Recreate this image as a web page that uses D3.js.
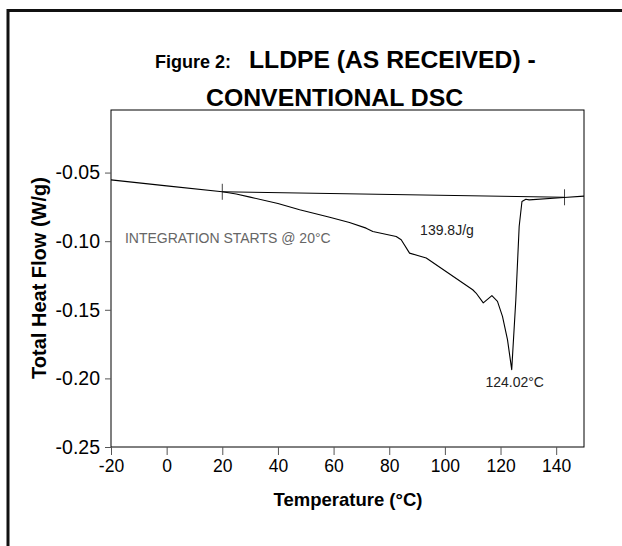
<!DOCTYPE html>
<html>
<head>
<meta charset="utf-8">
<script src="https://cdn.jsdelivr.net/npm/d3@7"></script>
<style>
  html, body { margin: 0; padding: 0; background: #fff; }
  svg { display: block; }
  text { font-family: Arial, "Liberation Sans", sans-serif; }
</style>
</head>
<body>
<svg id="chart" width="622" height="546"></svg>
<script>
// DSC trace: temperature (°C) and total heat flow (W/g)
const temps = [-20, 0, 20, 25, 30, 40, 47.8, 58.6, 65.7, 71.7, 74.1, 82.5, 84.3, 87.3, 93.3,
  110, 111.2, 113.8, 116.9, 118.9, 120.7, 122.5, 124.02, 125.5, 126.7, 127.7, 129.1, 130.3, 142.8, 150];
const heatFlow = [-0.0553, -0.0597, -0.064, -0.0656, -0.0679, -0.0725, -0.0771, -0.0825, -0.0864, -0.0905,
  -0.0929, -0.0966, -0.099, -0.1087, -0.1123, -0.1354, -0.1378, -0.145, -0.1397, -0.1439, -0.1548,
  -0.1718, -0.1936, -0.1427, -0.0893, -0.0711, -0.0694, -0.0699, -0.0682, -0.0672];

// Integration baseline limits
const baselineT = [20, 143];
const baselineHF = [-0.064, -0.068];

// Axis ticks
const xTicks = [-20, 0, 20, 40, 60, 80, 100, 120, 140];
const yTicks = [-0.25, -0.20, -0.15, -0.10, -0.05];

// Peak annotation
const peakT = 124.02;
const peakHF = -0.1936;
const enthalpy = 139.8;

const svg = d3.select("#chart");

// outer frame
svg.append("rect")
  .attr("x", 8).attr("y", 10.5)
  .attr("width", 640).attr("height", 560)
  .attr("fill", "none").attr("stroke", "#111").attr("stroke-width", 3);

const plotLeft = 111, plotRight = 584, plotTop = 110, plotBottom = 447;

const x = d3.scaleLinear().domain([-20, 150]).range([plotLeft, plotRight]);
const y = d3.scaleLinear().domain([-0.25, -0.0044]).range([plotBottom, plotTop]);

// plot box
svg.append("rect")
  .attr("x", plotLeft).attr("y", plotTop)
  .attr("width", plotRight - plotLeft).attr("height", plotBottom - plotTop)
  .attr("fill", "none").attr("stroke", "#000").attr("stroke-width", 1);

// x axis
const xAxis = svg.append("g")
  .attr("transform", `translate(0,${plotBottom})`)
  .call(d3.axisBottom(x).tickValues(xTicks).tickSize(8).tickPadding(5).tickFormat(d3.format("d")));
xAxis.select(".domain").remove();
xAxis.selectAll("line").attr("stroke", "#555");
xAxis.selectAll("text").attr("font-size", 17.5).attr("fill", "#000")
  .text(d => String(d))
  .style("font-family", "Arial, 'Liberation Sans', sans-serif");

// y axis
const yAxis = svg.append("g")
  .attr("transform", `translate(${plotLeft},0)`)
  .call(d3.axisLeft(y).tickValues(yTicks).tickSize(6).tickPadding(5).tickFormat(d3.format(".2f")));
yAxis.select(".domain").remove();
yAxis.selectAll("line").attr("stroke", "#555");
yAxis.selectAll("text").attr("font-size", 19.5).attr("fill", "#000")
  .text(d => d.toFixed(2))
  .style("font-family", "Arial, 'Liberation Sans', sans-serif");

// integration baseline
svg.append("line")
  .attr("x1", x(baselineT[0])).attr("y1", y(baselineHF[0]))
  .attr("x2", x(baselineT[1])).attr("y2", y(baselineHF[1]))
  .attr("stroke", "#000").attr("stroke-width", 1);

// baseline limit markers
baselineT.forEach((t, i) => {
  svg.append("line")
    .attr("x1", x(t)).attr("x2", x(t))
    .attr("y1", y(baselineHF[i]) - 8).attr("y2", y(baselineHF[i]) + 8)
    .attr("stroke", "#444").attr("stroke-width", 1);
});

// heat flow curve
const line = d3.line()
  .x((d, i) => x(temps[i]))
  .y((d, i) => y(heatFlow[i]));
svg.append("path")
  .datum(temps)
  .attr("d", line)
  .attr("fill", "none")
  .attr("stroke", "#000")
  .attr("stroke-width", 1.1)
  .attr("stroke-linejoin", "round");

// annotations
svg.append("text")
  .attr("x", x(-15)).attr("y", y(-0.1012))
  .attr("font-size", 14).attr("fill", "#666")
  .text("INTEGRATION STARTS @ 20°C");

svg.append("text")
  .attr("x", x(91.1)).attr("y", y(-0.0953))
  .attr("font-size", 14).attr("fill", "#222")
  .text(`${enthalpy}J/g`);

svg.append("text")
  .attr("x", x(peakT) + 3).attr("y", y(peakHF) + 17)
  .attr("text-anchor", "middle")
  .attr("font-size", 14).attr("fill", "#222")
  .text(`${peakT.toFixed(2)}°C`);

// titles
const title = svg.append("text")
  .attr("x", 155).attr("y", 68)
  .attr("font-weight", "bold").attr("fill", "#000");
title.append("tspan").attr("font-size", 18).text("Figure 2:");
title.append("tspan").attr("font-size", 24.7).attr("dx", 18).text("LLDPE (AS RECEIVED) -");

svg.append("text")
  .attr("x", 206).attr("y", 106)
  .attr("font-weight", "bold").attr("font-size", 24.8)
  .text("CONVENTIONAL DSC");

svg.append("text")
  .attr("x", 348).attr("y", 506)
  .attr("text-anchor", "middle")
  .attr("font-weight", "bold").attr("font-size", 18.5)
  .text("Temperature (°C)");

svg.append("text")
  .attr("transform", "translate(46,278) rotate(-90)")
  .attr("text-anchor", "middle")
  .attr("font-weight", "bold").attr("font-size", 20)
  .text("Total Heat Flow (W/g)");
</script>
</body>
</html>
